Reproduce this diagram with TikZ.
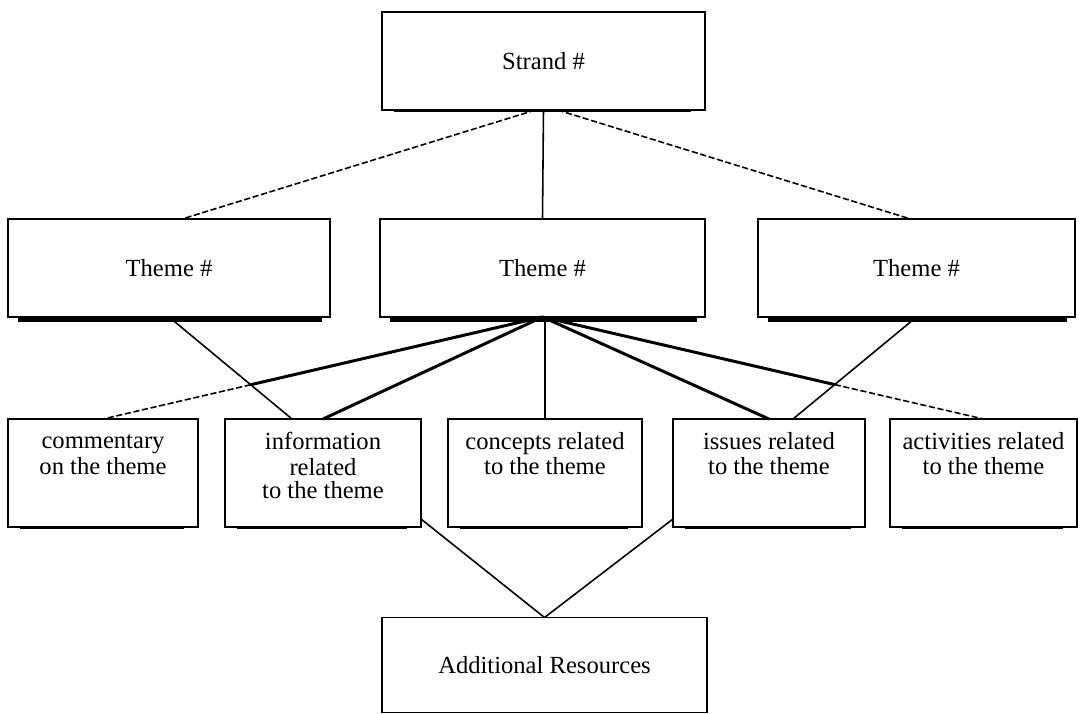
\documentclass[tikz,border=0pt]{standalone}
\usepackage{fontspec}
\setmainfont{Liberation Serif}
\usetikzlibrary{calc}
\newcommand{\toptext}[1]{\parbox[c][1.64cm][t]{3.6cm}{\centering\strut #1}}
\begin{document}
\begin{tikzpicture}[x=0.02cm,y=-0.02cm,
    box/.style={draw,line width=1pt,outer sep=0pt,inner sep=2pt,align=center,
      font=\fontsize{14}{13.2}\selectfont},
    upper/.style={box,minimum height=1.96cm},
    lower/.style={box,minimum height=2.16cm},
    thinline/.style={line width=0.9pt},
    heavyline/.style={line width=1.7pt},
    dashline/.style={line width=0.9pt,dash pattern=on 3.5pt off 1.5pt}]
    \useasboundingbox (0,0) rectangle (1080,714);
    \node[upper,minimum width=6.46cm] (strand) at (543.5,61) {Strand \#};
    \node[upper,minimum width=6.44cm] (themeL) at (169,268) {Theme \#};
    \node[upper,minimum width=6.5cm] (themeM) at (542.5,268) {Theme \#};
    \node[upper,minimum width=6.34cm] (themeR) at (916.5,268) {Theme \#};
    \node[lower,minimum width=3.8cm] (comm) at (103,473) {\toptext{commentary\\on the theme}};
    \node[lower,minimum width=3.92cm] (info) at (323,473) {\toptext{information\\related\\to the theme}};
    \node[lower,minimum width=3.88cm] (conc) at (545,473) {\toptext{concepts related\\to the theme}};
    \node[lower,minimum width=3.84cm] (issues) at (769,473) {\toptext{issues related\\to the theme}};
    \node[lower,minimum width=3.74cm] (activ) at (983.5,473) {\toptext{activities related\\to the theme}};
    \node[box,minimum width=6.5cm,minimum height=1.9cm] (addres) at (544.5,665) {Additional Resources};
    \foreach \n in {themeL,themeM,themeR}
      \fill ($(\n.south west)+(10,0)$) rectangle ($(\n.south east)+(-8,5)$);
    \foreach \n in {strand,comm,info,conc,issues,activ}
      \fill ($(\n.south west)+(12,0)$) rectangle ($(\n.south east)+(-14,2.5)$);
    \coordinate (infoin) at ($(info.north)+(-31,0)$);
    \coordinate (issuesin) at ($(issues.north)+(24,0)$);
    \draw[thinline] (strand.south) -- (themeM.north);
    \draw[dashline] ($(strand.south)+(-8,0)$) -- ($(themeL.north)+(13,0)$);
    \draw[dashline] ($(strand.south)+(14,0)$) -- ($(themeR.north)+(-6,0)$);
    \draw[thinline] (themeL.south) -- (infoin);
    \draw[thinline] (themeR.south) -- (issuesin);
    \coordinate (crossL) at (intersection of themeM.south--comm.north and themeL.south--infoin);
    \coordinate (crossR) at (intersection of themeM.south--activ.north and themeR.south--issuesin);
    \draw[heavyline] (themeM.south) -- (crossL);
    \draw[dashline] (crossL) -- (comm.north);
    \draw[heavyline] (themeM.south) -- (info.north);
    \draw[thinline,line width=1.2pt] (themeM.south -| conc.north) -- (conc.north);
    \draw[heavyline] (themeM.south) -- (issues.north);
    \draw[heavyline] (themeM.south) -- (crossR);
    \draw[dashline] (crossR) -- (activ.north);
    \draw[thinline] ($(info.south east)+(0,-8)$) -- (addres.north);
    \draw[thinline] ($(issues.south west)+(0,-8)$) -- (addres.north);
\end{tikzpicture}
\end{document}
